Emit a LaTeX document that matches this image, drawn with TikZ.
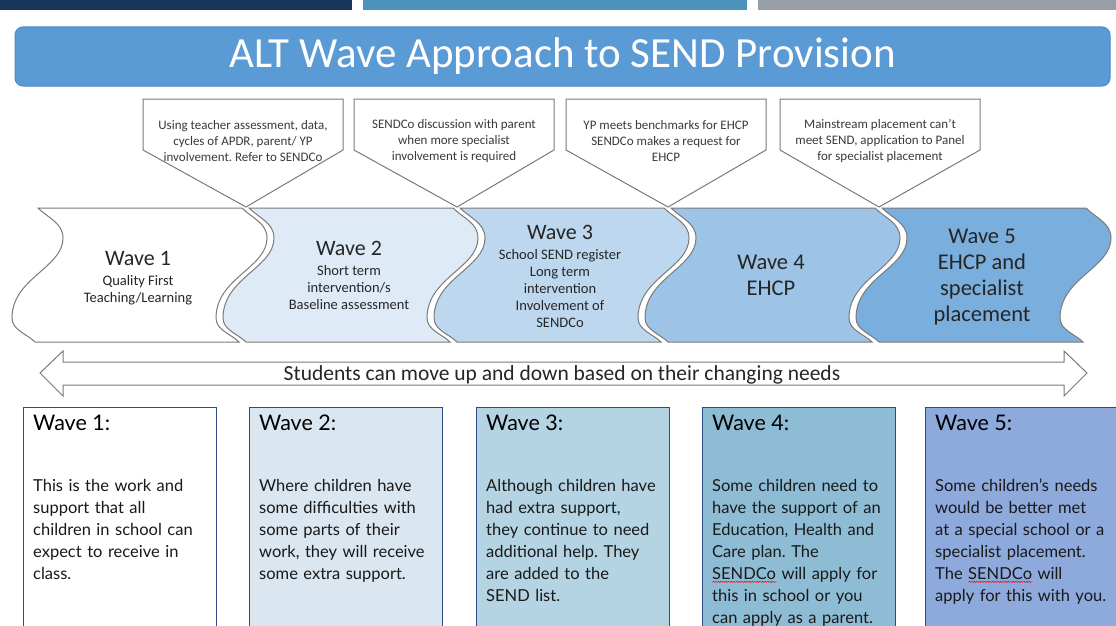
\documentclass[tikz,border=0pt]{standalone}
\usepackage{fontspec}
\setmainfont{Carlito}
\newfontfamily\gillfont{Lato}
\usetikzlibrary{decorations.pathmorphing}
\definecolor{barNavy}{HTML}{1B365D}
\definecolor{barTeal}{HTML}{4A92BA}
\definecolor{barGrey}{HTML}{989EA6}
\definecolor{titleBlue}{HTML}{5B9BD5}
\definecolor{titleEdge}{HTML}{4F89C2}
\definecolor{waveTwo}{HTML}{DEEBF7}
\definecolor{waveThree}{HTML}{BDD7EE}
\definecolor{waveFour}{HTML}{9DC3E6}
\definecolor{waveFive}{HTML}{7AAEDD}
\definecolor{edgeGrey}{HTML}{7A7A7A}
\definecolor{boxTwo}{HTML}{DAE6F0}
\definecolor{boxThree}{HTML}{B4D3E3}
\definecolor{boxFour}{HTML}{8FBCD5}
\definecolor{boxFive}{HTML}{8EA9DC}
\definecolor{boxEdge}{HTML}{2E4A86}
\definecolor{inkGrey}{HTML}{3A3A3A}
\tikzset{
    titlebar/.style={
        rounded corners=8pt, fill=titleBlue, draw=titleEdge, line width=1pt,
        minimum width=1095pt, minimum height=59pt, text=white,
        font=\fontsize{43}{48}\selectfont
    },
    waveline/.style={draw=edgeGrey, line width=1pt},
    wavetext/.style={align=center, text=black!85, font=\fontsize{14.5}{17}\selectfont},
    calloutline/.style={draw=edgeGrey, line width=1pt, fill=white},
    callouttext/.style={align=center, text=inkGrey, font=\fontsize{13}{16}\selectfont\frenchspacing},
    cardline/.style={draw=boxEdge, line width=1pt},
    cardhead/.style={inner sep=0pt, text=black, font=\gillfont\fontsize{21.5}{24}\selectfont},
    cardbody/.style={inner sep=0pt, text width=200pt, align=left, text=black!90,
        font=\gillfont\fontsize{16.5}{22}\selectfont\frenchspacing}
}
% red squiggle under flagged words
\newsavebox{\spellbox}
\newlength{\spellwd}
\newcommand{\spellmark}[1]{\leavevmode\sbox{\spellbox}{#1}\setlength{\spellwd}{\wd\spellbox}%
	\rlap{\raisebox{-3.5pt}[0pt][0pt]{\tikz\draw[red, line width=0.5pt, decorate,
		decoration={snake, amplitude=0.6pt, segment length=2.6pt}] (0pt,0pt) -- (\spellwd,0pt);}}%
	\usebox{\spellbox}}
\newcommand{\wavehead}[1]{{\fontsize{22}{24}\selectfont #1}\\[3pt]}
% one wave block: left x, fill, name
\newcommand{\waveBlock}[3] {
	\begin{scope}[shift={(#1,208)}]
		\draw[waveline, fill=#2] (0,0) -- (204,0)
			.. controls (214,10) and (229,15) .. (229,30)
			.. controls (229,60) and (178,70) .. (178,110)
			.. controls (178,122) and (193,126) .. (201,134)
			-- (-3,134)
			.. controls (-11,126) and (-26,122) .. (-26,110)
			.. controls (-26,70) and (25,60) .. (25,30)
			.. controls (25,15) and (10,10) .. (0,0) -- cycle;
		\coordinate (#3) at (100,67);
	\end{scope}
}
% callout: centre x, tip x, name, text
\newcommand{\callout}[4] {
	\draw[calloutline] (#1-100,99) -- (#1+100,99) -- (#1+100,150) -- (#2,207) -- (#1-100,150) -- cycle;
	\node[callouttext] (#3) at (#1,141) {#4};
}
% description card: left x, fill, name, heading, body
\newcommand{\waveCard}[5] {
	\draw[cardline, fill=#2] (#1,407) rectangle (#1+193,640);
	\node[cardhead, anchor=base west] (#3) at (#1+10,430) {#4};
	\node[cardbody, anchor=north west] (#3body) at (#1+10,475.6) {\strut #5};
}
\begin{document}
\begin{tikzpicture}[x=1pt, y=-1pt]
		\useasboundingbox (0,0) rectangle (1116,626);

		% Top bars and title
		\fill[barNavy] (0,0) rectangle (352,10);
		\fill[barTeal] (363,0) rectangle (747,10);
		\fill[barGrey] (758,0) rectangle (1116,10);
		\node[titlebar] (title) at (562.5,56.5) {ALT Wave Approach to SEND Provision};

		% Waves
		\waveBlock{38}{white}{w1}
		\waveBlock{249}{waveTwo}{w2}
		\waveBlock{460}{waveThree}{w3}
		\waveBlock{671}{waveFour}{w4}
		\waveBlock{882}{waveFive}{w5}
		\node[wavetext] (w1text) at ([yshift=-3]w1) {\wavehead{Wave 1}Quality First\\Teaching/Learning};
		\node[wavetext] (w2text) at (w2) {\wavehead{Wave 2}Short term\\intervention/s\\Baseline assessment};
		\node[wavetext] (w3text) at ([yshift=-1]w3) {\wavehead{Wave 3}School SEND register\\Long term\\intervention\\Involvement of\\SENDCo};
		\node[wavetext, font=\fontsize{22.5}{26}\selectfont] (w4text) at (w4) {Wave 4\\EHCP};
		\node[wavetext, font=\fontsize{22.5}{26}\selectfont] (w5text) at ([yshift=-2]w5) {Wave 5\\EHCP and\\specialist\\placement};

		% Callouts above the waves
		\callout{243}{246}{note1}{Using teacher assessment, data,\\cycles of APDR, parent/ YP\\involvement. Refer to SENDCo}
		\callout{454}{457}{note2}{SENDCo discussion with parent\\when more specialist\\involvement is required}
		\callout{666}{668}{note3}{YP meets benchmarks for EHCP\\SENDCo makes a request for\\EHCP}
		\callout{880}{879}{note4}{Mainstream placement can’t\\meet SEND, application to Panel\\for specialist placement}

		% Two-way arrow
		\draw[waveline, fill=white] (40,373) -- (63,351) -- (63,362) -- (1064,362) -- (1064,351) -- (1087,373)
			-- (1064,396) -- (1064,385) -- (63,385) -- (63,396) -- cycle;
		\node[text=black!85, font=\fontsize{21.5}{24}\selectfont] (move) at (562,375) {Students can move up and down based on their changing needs};

		% Description cards
		\waveCard{23}{white}{c1}{Wave 1:}{This is the work and\\support that all\\children in school can\\expect to receive in\\class.}
		\waveCard{249}{boxTwo}{c2}{Wave 2:}{Where children have\\some difficulties with\\some parts of their\\work, they will receive\\some extra support.}
		\waveCard{476}{boxThree}{c3}{Wave 3:}{Although children have\\had extra support,\\they continue to need\\additional help. They\\are added to the\\SEND list.}
		\waveCard{702}{boxFour}{c4}{Wave 4:}{Some children need to\\have the support of an\\Education, Health and\\Care plan. The\\\spellmark{SENDCo} will apply for\\this in school or you\\can apply as a parent.}
		\waveCard{925}{boxFive}{c5}{Wave 5:}{Some children’s needs\\would be better met\\at a special school or a\\specialist placement.\\The \spellmark{SENDCo} will\\apply for this with you.}

	\end{tikzpicture}
\end{document}
